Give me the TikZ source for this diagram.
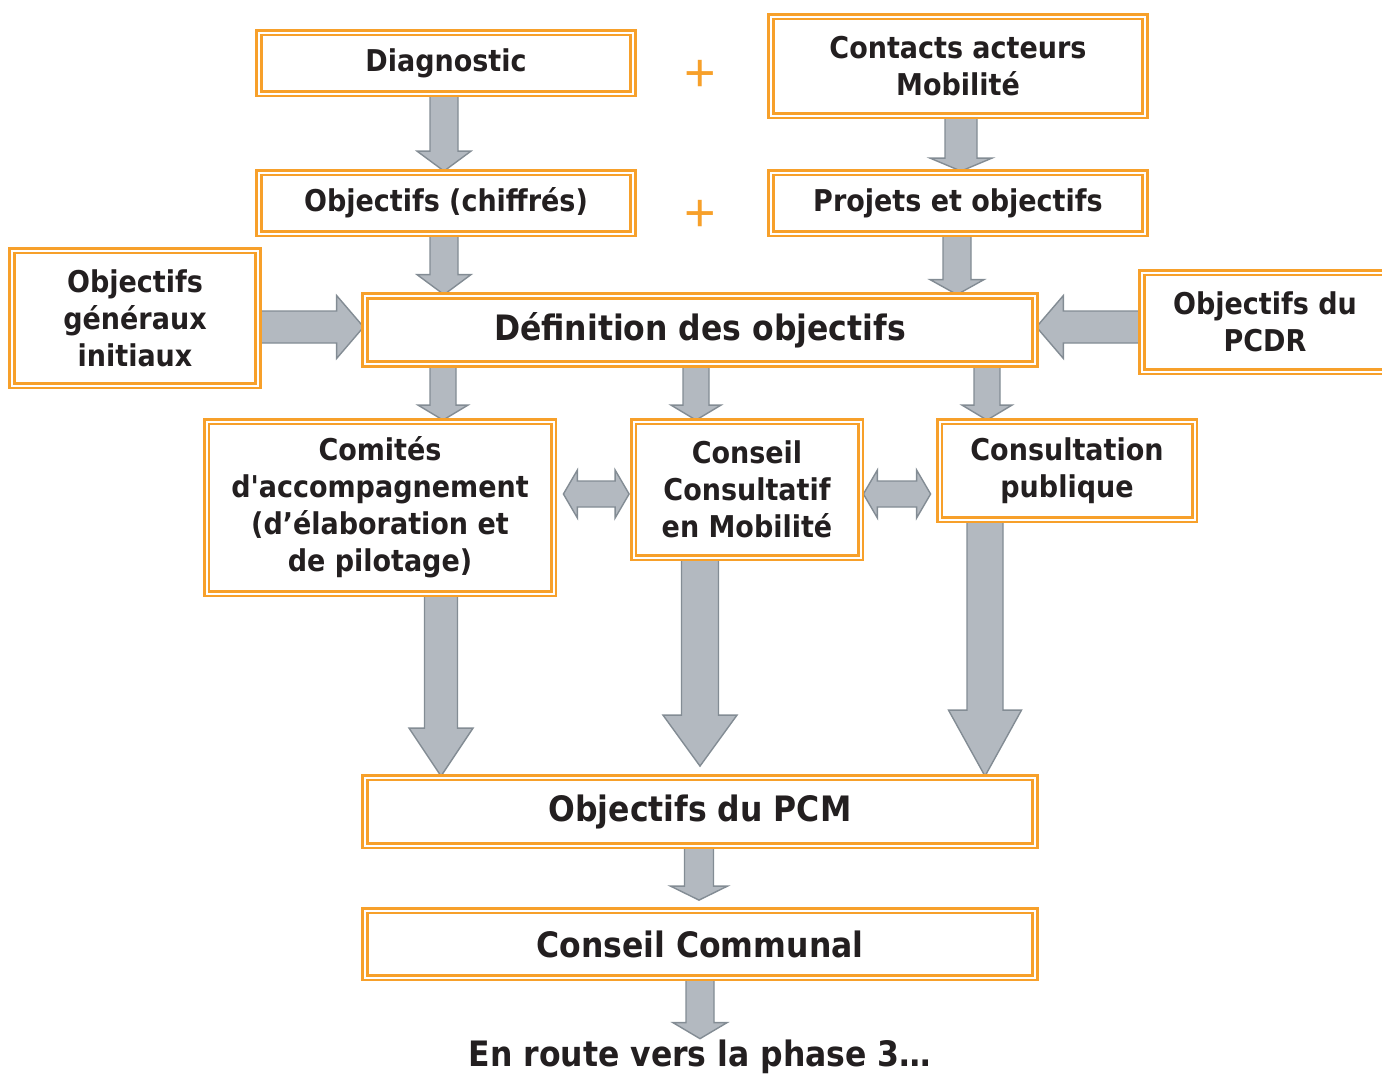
\documentclass[tikz,border=0pt]{standalone}
\usepackage{fontspec}
\newfontfamily\boxfont{DejaVu Sans Condensed}
\newfontfamily\plusfont{Liberation Sans}
\usetikzlibrary{calc,backgrounds}
\definecolor{boxorange}{HTML}{F7A02A}
\definecolor{arrowgrey}{HTML}{B3B9C0}
\definecolor{arrowline}{HTML}{838C94}
\definecolor{textdark}{HTML}{231F20}
\tikzset{
  dbox/.style={draw=boxorange, double=white, line width=1.4pt, double distance=1pt,
    fill=white, inner sep=0pt, align=center, text=textdark,
    font=\boxfont\bfseries\fontsize{15}{18.5}\selectfont},
  bigbox/.style={dbox, font=\boxfont\bfseries\fontsize{17.5}{21}\selectfont},
  arr/.style={fill=arrowgrey, draw=arrowline, line width=0.7pt, line join=miter},
  plus/.style={text=boxorange, inner sep=0pt, font=\plusfont\fontsize{27}{27}\selectfont}
}
% start, tip, shaft half width, head half width, head length
\newcommand{\blockarrow}[5]{%
  \coordinate (h) at ($#2!#5!#1$);
  \filldraw[arr] ($#1!#3!90:#2$) -- ($(h)!#3!-90:#1$) -- ($(h)!#4!-90:#1$) -- #2
    -- ($(h)!#4!90:#1$) -- ($(h)!#3!90:#1$) -- ($#1!#3!-90:#2$) -- cycle;}
\newcommand{\dblarrow}[5]{%
  \coordinate (ha) at ($#1!#5!#2$);
  \coordinate (hb) at ($#2!#5!#1$);
  \filldraw[arr] #1 -- ($(ha)!#4!90:#2$) -- ($(ha)!#3!90:#2$) -- ($(hb)!#3!-90:#1$)
    -- ($(hb)!#4!-90:#1$) -- #2 -- ($(hb)!#4!90:#1$) -- ($(hb)!#3!90:#1$)
    -- ($(ha)!#3!-90:#2$) -- ($(ha)!#4!-90:#2$) -- cycle;}
\begin{document}
\begin{tikzpicture}[x=0.5pt,y=-0.5pt]
    \path[use as bounding box, clip] (0,0) rectangle (1382,1077);
    \node[dbox, minimum width=187pt, minimum height=30.5pt] (diag) at (446,63) {Diagnostic};
    \node[dbox, minimum width=187pt, minimum height=49.5pt] (contacts) at (958,66) {Contacts acteurs\\Mobilité};
    \node[dbox, minimum width=187pt, minimum height=30.5pt] (objc) at (446,203) {Objectifs (chiffrés)};
    \node[dbox, minimum width=187pt, minimum height=30.5pt] (projets) at (958,203) {Projets et objectifs};
    \node[plus] (plus1) at (700.5,75.5) {+};
    \node[plus] (plus2) at (700.5,215.5) {+};
    \node[dbox, minimum width=123pt, minimum height=67.5pt] (objg) at (135,318) {Objectifs\\généraux\\initiaux};
    \node[bigbox, minimum width=335pt, minimum height=34pt] (def) at (700,330) {Définition des objectifs};
    \node[dbox, minimum width=123pt, minimum height=49.5pt] (pcdr) at (1265,322) {Objectifs du\\PCDR};
    \node[dbox, minimum width=173.5pt, minimum height=86pt] (comites) at (380,507.5) {Comités\\d'accompagnement\\(d’élaboration et\\de pilotage)};
    \node[dbox, minimum width=113.5pt, minimum height=68pt] (conseil) at (747,489.5) {Conseil\\Consultatif\\en Mobilité};
    \node[dbox, minimum width=127.5pt, minimum height=49pt] (consult) at (1067,470.5) {Consultation\\publique};
    \node[bigbox, minimum width=335pt, minimum height=34pt] (pcm) at (700,811.5) {Objectifs du PCM};
    \node[bigbox, minimum width=335pt, minimum height=33.5pt] (communal) at (700,944) {Conseil Communal};
    \node[bigbox, draw=none, fill=none] (phase) at (700,1057) {En route vers la phase 3…};
    \coordinate (cm-tip) at ($(pcm.north -| 700,0)+(0,-10)$);
    \coordinate (cc-tip) at ($(communal.north -| 699,0)+(0,-9)$);
    \coordinate (dl-a) at ($(comites.east |- 0,494)+(8.5,0)$);
    \coordinate (dl-b) at ($(conseil.west |- 0,494)+(-3,0)$);
    \coordinate (dr-a) at ($(conseil.east |- 0,494)+(1.5,0)$);
    \coordinate (dr-b) at ($(consult.west |- 0,494)+(-7.5,0)$);
    \begin{pgfonlayer}{background}
        \blockarrow{(diag.south -| 444,0)}{(objc.north -| 444,0)}{7pt}{13.5pt}{10pt}
        \blockarrow{(contacts.south -| 961,0)}{(projets.north -| 961,0)}{8pt}{15.5pt}{6.5pt}
        \blockarrow{(objc.south -| 444,0)}{(def.north -| 444,0)}{7pt}{13.5pt}{10pt}
        \blockarrow{(projets.south -| 957,0)}{(def.north -| 957,0)}{7pt}{13.5pt}{7.5pt}
        \blockarrow{(objg.east |- 0,327)}{(def.west |- 0,327)}{8pt}{15.75pt}{13.5pt}
        \blockarrow{(pcdr.west |- 0,327)}{(def.east |- 0,327)}{8pt}{15.75pt}{13.5pt}
        \blockarrow{(def.south -| 443,0)}{(comites.north -| 443,0)}{6.5pt}{12.5pt}{7.5pt}
        \blockarrow{(def.south -| 696,0)}{(conseil.north -| 696,0)}{6.5pt}{12.5pt}{7.5pt}
        \blockarrow{(def.south -| 987,0)}{(consult.north -| 987,0)}{6.5pt}{12.5pt}{7.5pt}
        \dblarrow{(dl-a)}{(dl-b)}{6.5pt}{12pt}{7pt}
        \dblarrow{(dr-a)}{(dr-b)}{6.5pt}{12pt}{7pt}
        \blockarrow{(comites.south -| 441,0)}{(pcm.north -| 441,0)}{8.25pt}{16pt}{24pt}
        \blockarrow{(conseil.south -| 700,0)}{(cm-tip)}{9.25pt}{18.5pt}{25.5pt}
        \blockarrow{(consult.south -| 985,0)}{(pcm.north -| 985,0)}{9pt}{18.25pt}{33pt}
        \blockarrow{(pcm.south -| 699,0)}{(cc-tip)}{7.25pt}{14.25pt}{7pt}
        \blockarrow{(communal.south -| 700,0)}{(phase.north)}{7pt}{13.5pt}{8pt}
    \end{pgfonlayer}
\end{tikzpicture}
\end{document}
